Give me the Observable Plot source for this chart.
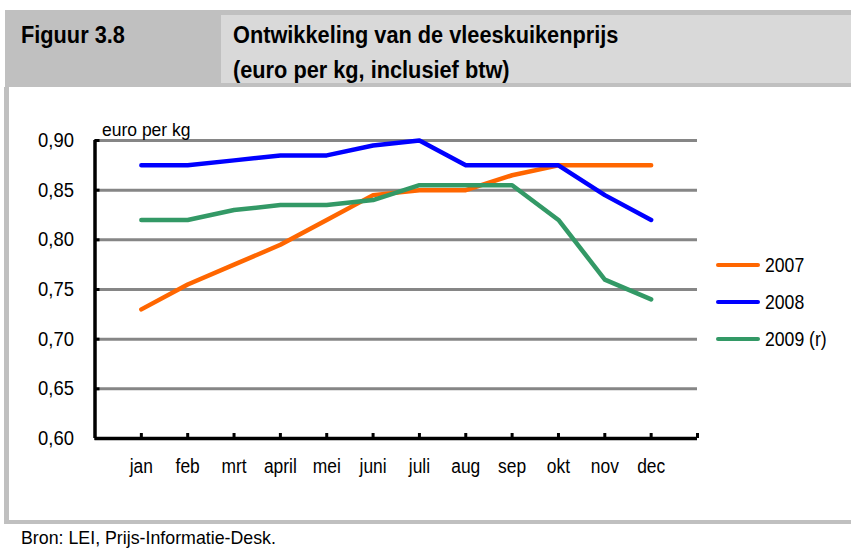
<!DOCTYPE html>
<html>
<head>
<meta charset="utf-8">
<script src="https://cdn.jsdelivr.net/npm/d3@7"></script>
<script src="https://cdn.jsdelivr.net/npm/@observablehq/plot@0.6"></script>
<style>
  html, body { margin: 0; padding: 0; background: #fff; }
  body { font-family: "Liberation Sans", Arial, sans-serif; }
  #page { position: relative; width: 851px; height: 548px; overflow: hidden; background: #fff; }
  .abs { position: absolute; }
  #hdr { left: 5px; top: 10px; width: 846px; height: 77px; background: #c0c0c0; }
  #hdrcell { left: 221px; top: 15px; width: 630px; height: 68px; background: #d9d9d9; }
  #fig, #title { font-weight: bold; font-size: 23px; line-height: 35px; color: #000; white-space: nowrap;
                 transform: scaleX(0.945); transform-origin: 0 0; }
  #fig { left: 21px; top: 18px; }
  #title { left: 233px; top: 18px; }
  #lborder { left: 4px; top: 87px; width: 5px; height: 437px; background: #c0c0c0; }
  #bborder { left: 4px; top: 520px; width: 847px; height: 4px; background: #c0c0c0; }
  #src { left: 21px; top: 528px; font-size: 17.8px; line-height: 20px; color: #000; white-space: nowrap; }
  #chart { left: 0px; top: 87px; }
  #legend { left: 716px; top: 246px; }
  .li { display: flex; align-items: center; height: 37px; color: #000; }
  .li span { font-size: 20.5px; display: inline-block; transform: scaleX(0.86); transform-origin: 0 50%; }
  .sw { width: 44px; height: 4px; border-radius: 2px; margin-right: 5px; }
</style>
</head>
<body>
<div id="page">
  <div id="hdr" class="abs"></div>
  <div id="hdrcell" class="abs"></div>
  <div id="fig" class="abs">Figuur 3.8</div>
  <div id="title" class="abs">Ontwikkeling van de vleeskuikenprijs<br>(euro per kg, inclusief btw)</div>
  <div id="lborder" class="abs"></div>
  <div id="bborder" class="abs"></div>
  <div id="chart" class="abs"></div>
  <div id="legend" class="abs"></div>
  <div id="src" class="abs">Bron: LEI, Prijs-Informatie-Desk.</div>
</div>
<script>
const months = ["jan","feb","mrt","april","mei","juni","juli","aug","sep","okt","nov","dec"];
const seriesNames = ["2007","2008","2009 (r)"];
const seriesColors = ["#ff6600","#0000ff","#339966"];
const values2007 = [0.730,0.755,0.775,0.795,0.820,0.845,0.850,0.850,0.865,0.875,0.875,0.875];
const values2008 = [0.875,0.875,0.880,0.885,0.885,0.895,0.900,0.875,0.875,0.875,0.845,0.820];
const values2009 = [0.820,0.820,0.830,0.835,0.835,0.840,0.855,0.855,0.855,0.820,0.760,0.740];
const yTicks = [0.60,0.65,0.70,0.75,0.80,0.85,0.90];
const yLabel = "euro per kg";

const allValues = [values2007, values2008, values2009];
const data = [];
allValues.forEach((vals, s) => vals.forEach((v, i) => data.push({series: seriesNames[s], m: i + 1, v})));
const monthIdx = months.map((_, i) => i + 1);
const xTickIdx = d3.range(1, months.length + 2); // band edges incl. the last one
const fmt = d => d.toFixed(2).replace(".", ",");
const ff = '"Liberation Sans", Arial, sans-serif';

const chart = Plot.plot({
  width: 851,
  height: 433,
  marginLeft: 94.5,
  marginRight: 154,
  marginTop: 53,
  marginBottom: 82,
  style: {fontFamily: ff, fontSize: "18px", color: "#000", background: "transparent", overflow: "visible"},
  x: {domain: [0, months.length + 1], axis: null},
  y: {domain: [yTicks[0], yTicks[yTicks.length - 1]], axis: null},
  color: {domain: seriesNames, range: seriesColors},
  marks: [
    Plot.ruleY(yTicks.slice(1), {stroke: "#868686", strokeWidth: 3}),
    Plot.ruleX([0], {stroke: "#000", strokeWidth: 3.5}),
    Plot.ruleY([yTicks[0]], {stroke: "#000", strokeWidth: 3.5}),
    Plot.ruleY(yTicks, {x1: 0, x2: 0, insetRight: -5, stroke: "#000", strokeWidth: 3}),
    Plot.ruleX(xTickIdx, {y1: yTicks[0], y2: yTicks[0], insetTop: -5, stroke: "#000", strokeWidth: 3}),
    Plot.axisY({ticks: yTicks, tickFormat: fmt, tickSize: 0, tickPadding: 21, fontSize: 20.5, label: null}),
    Plot.axisX({ticks: monthIdx, tickFormat: i => months[i - 1], tickSize: 0, tickPadding: 20, fontSize: 20, label: null}),
    Plot.text([yLabel], {frameAnchor: "top-left", dx: 7, dy: -5, lineAnchor: "bottom", textAnchor: "start", fontSize: 17.5}),
    Plot.line(data, {x: "m", y: "v", z: "series", stroke: "series", strokeWidth: 4.5, strokeLinecap: "round", strokeLinejoin: "round"})
  ]
});
document.getElementById("chart").appendChild(chart);

// slightly condense axis tick labels, as in the original narrow typeface
function condense(sel, k) {
  chart.querySelectorAll(sel).forEach(t => {
    const len = t.getComputedTextLength();
    if (len > 0) {
      t.setAttribute("textLength", (len * k).toFixed(2));
      t.setAttribute("lengthAdjust", "spacingAndGlyphs");
    }
  });
}
condense("[aria-label='y-axis tick label'] text", 0.9);
condense("[aria-label='x-axis tick label'] text", 0.87);

const legend = document.getElementById("legend");
seriesNames.forEach((n, i) => {
  const row = document.createElement("div");
  row.className = "li";
  const sw = document.createElement("div");
  sw.className = "sw";
  sw.style.background = seriesColors[i];
  row.appendChild(sw);
  const t = document.createElement("span");
  t.textContent = n;
  row.appendChild(t);
  legend.appendChild(row);
});
</script>
</body>
</html>
